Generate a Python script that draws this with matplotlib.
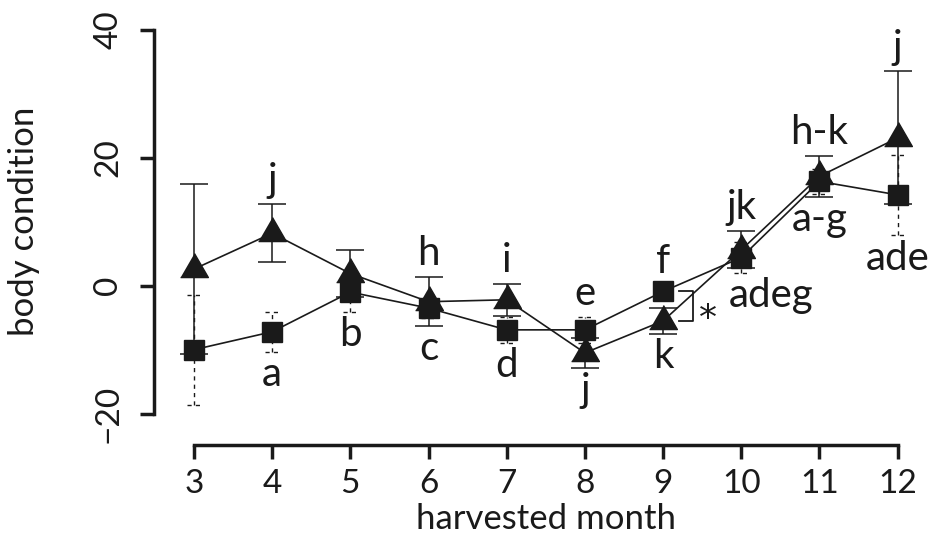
import numpy as np
import matplotlib
matplotlib.use("Agg")
import matplotlib.pyplot as plt
from matplotlib.transforms import blended_transform_factory

plt.rcParams["font.family"] = ["Lato", "DejaVu Sans"]

# data
months = [3, 4, 5, 6, 7, 8, 9, 10, 11, 12]
tri_mean = [2.6, 8.2, 1.9, -2.5, -2.2, -10.5, -5.5, 5.6, 17.1, 23.1]
tri_err = [13.3, 4.5, 3.7, 3.8, 2.5, 2.3, 2.0, 2.9, 3.2, 10.4]
sq_mean = [-10.0, -7.2, -1.0, -3.5, -6.9, -6.9, -0.9, 4.4, 16.3, 14.2]
sq_err = [8.6, 3.1, 3.1, 1.5, 2.0, 2.0, 1.0, 2.4, 2.0, 6.3]
above_labels = ["", "j", "", "h", "i", "e", "f", "jk", "h-k", "j"]
below_labels = ["", "a", "b", "c", "d", "j", "k", "adeg", "a-g", "ade"]
yticks = [-20, 0, 20, 40]

INK = "#1a1a1a"
LETTER_SIZE = 29

fig = plt.figure(figsize=(9.31, 5.35), dpi=100)
ax = fig.add_axes([154 / 931, 90 / 535, 771 / 931, 435 / 535])
ax.set_xlim(2.489, 12.35)
ax.set_ylim(-24.9, 43.1)

x = np.array(months)
tm, te = np.array(tri_mean), np.array(tri_err)
sm, se = np.array(sq_mean), np.array(sq_err)

# error bars: dashed for squares, solid for triangles
eb1 = ax.errorbar(x, sm, yerr=se, fmt="none", ecolor=INK, elinewidth=1.0,
                  capsize=0, zorder=2)
for c in eb1[2]:
    c.set_linestyle((0, (3, 3)))
for xi, lo, hi in zip(x, sm - se, sm + se):
    for yc in (lo, hi):
        ax.plot([xi - 0.09, xi + 0.09], [yc, yc], color=INK, lw=1.0,
                ls=(0, (3, 3)), zorder=2)
ax.errorbar(x, tm, yerr=te, fmt="none", ecolor=INK, elinewidth=1.1,
            capsize=10, capthick=1.1, zorder=2)

# lines and markers
tri = [(-1, -0.58), (1, -0.58), (0, 1.15)]
ax.plot(x, sm, color=INK, lw=1.2, zorder=3)
ax.plot(x, tm, color=INK, lw=1.2, zorder=3)
ax.plot(x, sm, ls="none", marker="s", ms=14.5, color=INK, zorder=4)
ax.plot(x, tm, ls="none", marker=tri, ms=23, color=INK, zorder=5)

# letters above / below each month
nudge = {"adeg": 0.38}
top = np.maximum(tm + te, sm + se)
bot = np.minimum(tm - te, sm - se)
for xi, t, b, la, lb in zip(x, top, bot, above_labels, below_labels):
    if la:
        ax.annotate(la, (xi, t), xytext=(0, 17), textcoords="offset points",
                    ha="center", va="center", fontsize=LETTER_SIZE, color=INK)
    if lb:
        ax.annotate(lb, (xi + nudge.get(lb, 0), b), xytext=(0, -16.5),
                    textcoords="offset points", ha="center", va="center",
                    fontsize=LETTER_SIZE, color=INK)

# significance bracket at month 9
i9 = months.index(9)
bx0, bx1 = 9.21, 9.38
ax.plot([bx0, bx1, bx1, bx0], [sm[i9], sm[i9], tm[i9], tm[i9]],
        color=INK, lw=1.3, zorder=3)
ax.annotate("*", (bx1, (sm[i9] + tm[i9]) / 2), xytext=(11, -16.5),
            textcoords="offset points", ha="center", va="baseline",
            fontsize=26, color=INK, family="DejaVu Sans")

# axes styling
for s in ("top", "right"):
    ax.spines[s].set_visible(False)
ax.spines["left"].set_bounds(-20, 40)
ax.spines["bottom"].set_bounds(3, 12)
for s in ("left", "bottom"):
    ax.spines[s].set_linewidth(2.5)
    ax.spines[s].set_color(INK)
ax.set_xticks(months)
ax.set_yticks(yticks)
ax.set_yticklabels([str(v).replace("-", "\u2212") for v in yticks],
                   rotation=90, va="center")
ax.tick_params(axis="both", length=10, width=2.5, color=INK,
               labelsize=24, labelcolor=INK)
ax.tick_params(axis="y", pad=12)
ax.tick_params(axis="x", pad=7)

ax.set_xlabel("harvested month", fontsize=25, color=INK, va="baseline")
ax.set_ylabel("body condition", fontsize=25, color=INK)
ax.xaxis.set_label_coords(7.5, -0.192,
                          transform=blended_transform_factory(ax.transData, ax.transAxes))
ax.yaxis.set_label_coords(-0.148, 10,
                          transform=blended_transform_factory(ax.transAxes, ax.transData))

fig.savefig("out.png", dpi=100)
